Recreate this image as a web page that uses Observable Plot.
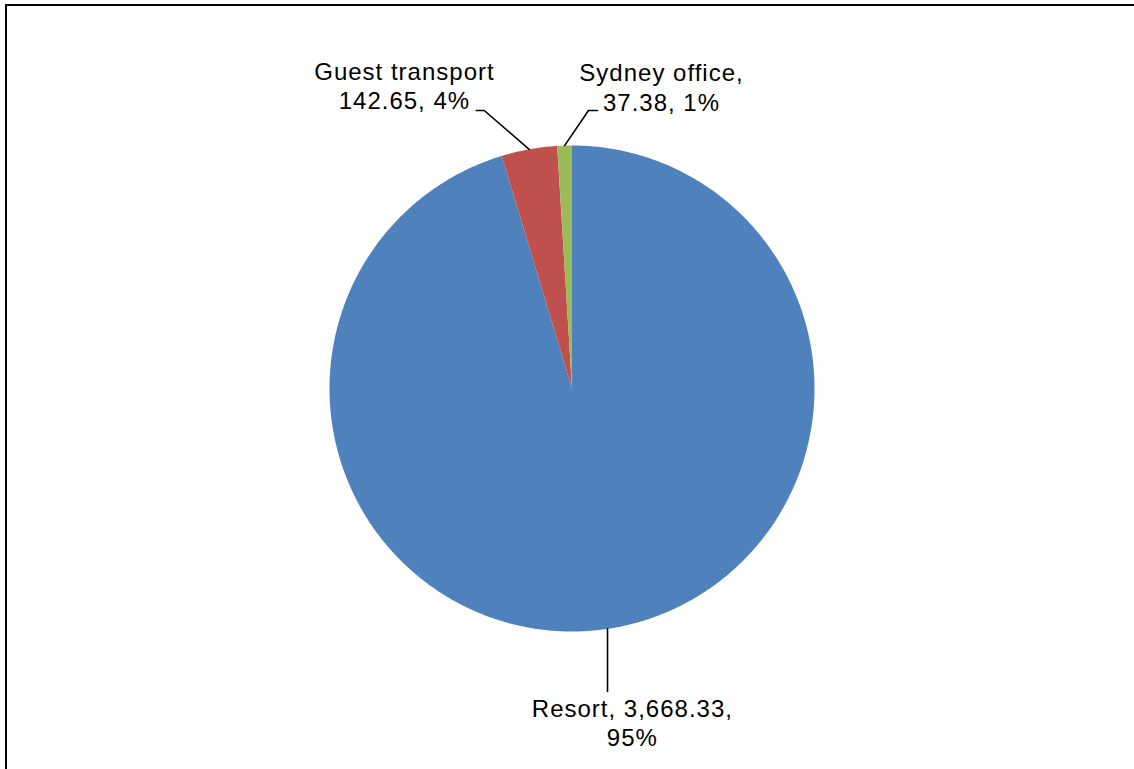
<!DOCTYPE html>
<html>
<head>
<meta charset="utf-8">
<script src="https://cdn.jsdelivr.net/npm/d3@7"></script>
<script src="https://cdn.jsdelivr.net/npm/@observablehq/plot@0.6"></script>
<style>
  html, body { margin: 0; padding: 0; background: #fff; overflow: hidden; }
  #chart svg { display: block; }
  svg text { letter-spacing: 1px; }
</style>
</head>
<body>
<div id="chart"></div>
<script>
// Data
const categories = ["Resort", "Guest transport", "Sydney office"];
const values = [3668.33, 142.65, 37.38];
const percents = ["95%", "4%", "1%"];
const colors = ["#4F81BD", "#C0504D", "#9BBB59"];

const fmt = d3.format(",.2f");
const labelTexts = [
  `Resort, ${fmt(values[0])},\n${percents[0]}`,
  `Guest transport\n${fmt(values[1])}, ${percents[1]}`,
  `Sydney office,\n${fmt(values[2])}, ${percents[2]}`
];

// Pie geometry (unit circle, 0 at 12 o'clock, clockwise)
const arcs = d3.pie().sort(null).startAngle(0).endAngle(2 * Math.PI)(values);
const slicePts = [];
arcs.forEach((a, i) => {
  const name = categories[i];
  slicePts.push({name, x: 0, y: 0});
  const n = Math.max(2, Math.ceil((a.endAngle - a.startAngle) / (Math.PI / 360)));
  for (let k = 0; k <= n; k++) {
    const t = a.startAngle + (a.endAngle - a.startAngle) * k / n;
    slicePts.push({name, x: Math.sin(t), y: Math.cos(t)});
  }
  slicePts.push({name, x: 0, y: 0});
});
const mid = arcs.map(a => (a.startAngle + a.endAngle) / 2);
const edge = i => ({x: Math.sin(mid[i]), y: Math.cos(mid[i])});

// Label layout (in pie-radius units)
const labelPos = [
  {x: 0.249, y: -1.473},
  {x: -0.691, y: 1.150},
  {x: 0.369, y: 1.144}
];
const leaders = [
  [edge(0), {x: edge(0).x, y: -1.247}],
  [edge(1), {x: -0.362, y: 1.144}, {x: -0.395, y: 1.144}],
  [edge(2), {x: 0.068, y: 1.144}, {x: 0.105, y: 1.144}]
].flatMap((pts, i) => pts.map(p => ({...p, name: categories[i]})));

const labels = categories.map((c, i) => ({name: c, text: labelTexts[i], ...labelPos[i]}));

const chart = Plot.plot({
  width: 1134,
  height: 769,
  margin: 0,
  x: {domain: [-1, 1], range: [329, 814], axis: null},
  y: {domain: [-1, 1], range: [631, 145], axis: null},
  color: {domain: categories, range: colors},
  style: {fontFamily: "'Liberation Sans', Arial, sans-serif", background: "#fff"},
  marks: [
    Plot.line(slicePts, {x: "x", y: "y", z: "name", fill: "name", stroke: null, curve: "linear"}),
    Plot.line(leaders, {x: "x", y: "y", z: "name", stroke: "#000", strokeWidth: 1.6}),
    Plot.text(labels, {x: "x", y: "y", text: "text", textAnchor: "middle", lineAnchor: "bottom",
      lineHeight: 1.22, fontSize: 24, fill: "#000"})
  ]
});
// Chart-area border (top and left edges only are visible in the original)
d3.select(chart).append("path")
  .attr("d", "M6,800V5H1200")
  .attr("fill", "none").attr("stroke", "#000").attr("stroke-width", 2);
document.getElementById("chart").appendChild(chart);
</script>
</body>
</html>
